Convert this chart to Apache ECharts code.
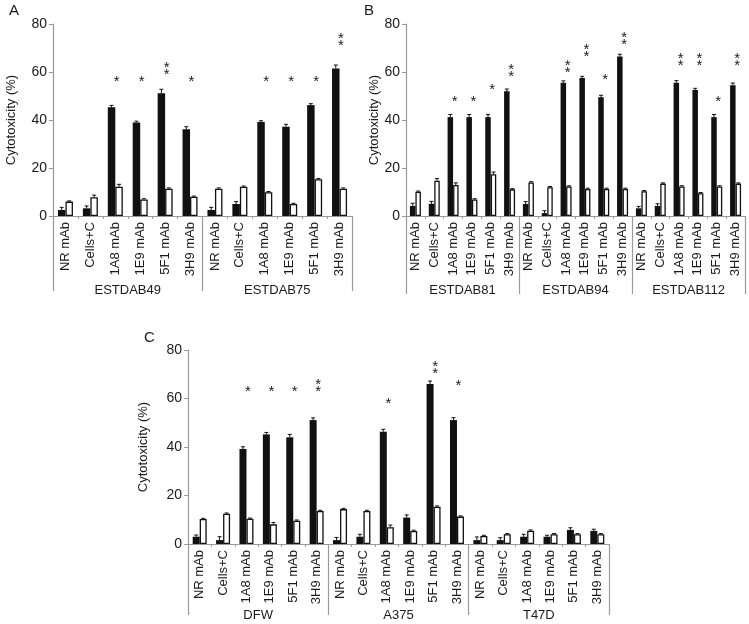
<!DOCTYPE html>
<html>
<head>
<meta charset="utf-8">
<script src="https://cdn.jsdelivr.net/npm/echarts@6/dist/echarts.min.js"></script>
<style>html,body{margin:0;padding:0;background:#fff}#chart{width:749px;height:624px}</style>
</head>
<body>
<div id="chart"></div>
<script>
// ---------- DATA ----------
const treatments = ['NR mAb','Cells+C','1A8 mAb','1E9 mAb','5F1 mAb','3H9 mAb'];
const groupsA = ['ESTDAB49','ESTDAB75'];
const groupsB = ['ESTDAB81','ESTDAB94','ESTDAB112'];
const groupsC = ['DFW','A375','T47D'];
const yTitle = 'Cytotoxicity (%)';

// black bars (mAb + complement) and white bars
const blackA = [2.5,3.2,45.3,39,51.1,36.1, 2.5,5,39.2,37.2,46.2,61.5];
const blackErrA = [1.1,1,0.8,0.5,1.7,1.1, 1.1,1,0.5,1,0.6,1.4];
const whiteA = [6,7.8,12.2,6.9,11.4,8, 11.4,12.2,9.9,5,15.3,11.4];
const whiteErrA = [0.3,0.9,1,0.3,0.3,0.3, 0.3,0.3,0.3,0.3,0.3,0.3];

const blackB = [4.2,5.1,41.2,41.2,41.2,52, 5,1.2,55.5,57.5,49.5,66.5, 3.2,4.2,55.5,52.5,41.2,54.5];
const blackErrB = [1.1,1,1.1,1.1,1.1,0.9, 1,1,0.8,0.7,0.8,0.9, 0.8,0.9,0.9,0.7,1.1,0.9];
const whiteB = [10.1,14.7,12.9,6.9,17.4,11.1, 14,12,12.3,11.3,11.3,11.3, 10.3,13.5,12.3,9.5,12.3,13.5];
const whiteErrB = [0.3,0.9,0.9,0.3,0.9,0.3, 0.3,0.3,0.3,0.3,0.3,0.3, 0.3,0.3,0.3,0.3,0.3,0.3];

const blackC = [3,1.6,39.2,45.2,44,51.1, 1.6,3,46.3,10.9,66,51.1, 1.6,1.6,3,3,5.8,5.4];
const blackErrC = [0.7,1.4,0.9,0.8,1.2,0.9, 1.1,1,1,1.1,1.2,1, 1.3,1,1,0.6,0.9,0.7];
const whiteC = [10.3,12.5,10.4,8.1,9.6,13.6, 14.4,13.6,6.9,5.4,15.4,11.3, 3.3,4,5.5,4,4,4];
const whiteErrC = [0.3,0.3,0.3,0.8,0.3,0.3, 0.3,0.3,0.9,0.3,0.3,0.3, 0.3,0.3,0.3,0.3,0.3,0.3];

// significance asterisks: count and level (value units)
const starsA = [0,0,1,1,2,1, 0,0,1,1,1,2];
const starLevelA = [0,0,57.5,57.5,61.7,57.5, 0,0,57.5,57.5,57.5,73.8];
const starsB = [0,0,1,1,1,2, 0,0,2,2,1,2, 0,0,2,2,1,2];
const starLevelB = [0,0,49.2,49.2,54.2,61, 0,0,62.5,69.2,58.3,74.4, 0,0,65.4,65.4,49.2,65.4];
const starsC = [0,0,1,1,1,2, 0,0,1,0,2,1, 0,0,0,0,0,0];
const starLevelC = [0,0,64.3,64.3,64.3,65.6, 0,0,59.4,0,73.2,66.8, 0,0,0,0,0,0];

const yMin = 0, yMax = 80, yStep = 20;

// ---------- BUILD ----------
const FONT = "'Liberation Sans', Arial, sans-serif";
const GRAY = '#9a9a9a';
const TXT = '#1a1a1a';

function cats(groups){ const c=[]; groups.forEach(()=>treatments.forEach(t=>c.push(t))); return c; }

const panels = [
  {groups: groupsA, black: blackA, bErr: blackErrA, white: whiteA, wErr: whiteErrA, stars: starsA, starLv: starLevelA,
   grid:{left:53, top:24, width:299, height:192}, bw:7.5, nameGap:35, tickLen:75, grpMargin:68},
  {groups: groupsB, black: blackB, bErr: blackErrB, white: whiteB, wErr: whiteErrB, stars: starsB, starLv: starLevelB,
   grid:{left:406, top:24, width:339, height:192}, bw:5.5, nameGap:25, tickLen:78, grpMargin:68},
  {groups: groupsC, black: blackC, bErr: blackErrC, white: whiteC, wErr: whiteErrC, stars: starsC, starLv: starLevelC,
   grid:{left:188, top:350, width:421, height:194}, bw:7, nameGap:38, tickLen:71, grpMargin:65}
];

const grid=[], xAxis=[], yAxis=[], series=[];
panels.forEach((p,i)=>{
  grid.push(p.grid);
  const c = cats(p.groups);
  xAxis.push({type:'category', gridIndex:i, data:c, position:'bottom',
    axisLine:{lineStyle:{color:GRAY, width:1.2}},
    axisTick:{show:true, length:3, alignWithLabel:false, interval:0, lineStyle:{color:GRAY}},
    axisLabel:{interval:0, rotate:90, margin:6, fontSize:13, color:TXT, fontFamily:FONT}});
  xAxis.push({type:'category', gridIndex:i, data:p.groups, position:'bottom',
    axisLine:{show:false},
    axisTick:{show:true, length:p.tickLen, alignWithLabel:false, interval:0, lineStyle:{color:GRAY, width:1.2}},
    axisLabel:{interval:0, margin:p.grpMargin, fontSize:13, color:TXT, fontFamily:FONT}});
  yAxis.push({type:'value', gridIndex:i, min:yMin, max:yMax, interval:yStep,
    name:yTitle, nameLocation:'middle', nameGap:p.nameGap,
    nameTextStyle:{fontSize:13, color:TXT, fontFamily:FONT},
    axisLine:{show:true, lineStyle:{color:GRAY, width:1.2}},
    axisTick:{show:true, length:4, lineStyle:{color:GRAY}},
    splitLine:{show:false},
    axisLabel:{fontSize:14, margin:6, color:TXT, fontFamily:FONT}});
  const xi = i*2;
  series.push({type:'bar', xAxisIndex:xi, yAxisIndex:i, data:p.black, barWidth:p.bw, barGap:'0%',
    itemStyle:{color:'#111'}, silent:true, z:2});
  series.push({type:'bar', xAxisIndex:xi, yAxisIndex:i, data:p.white, barWidth:p.bw, barGap:'0%',
    itemStyle:{color:'#fff', borderColor:'#111', borderWidth:1.3}, silent:true, z:2});
  // error bars
  const errData = [];
  p.black.forEach((v,k)=>errData.push([k, v, p.bErr[k], -1]));
  p.white.forEach((v,k)=>errData.push([k, v, p.wErr[k], 1]));
  const bw = p.bw;
  series.push({type:'custom', xAxisIndex:xi, yAxisIndex:i, data:errData, silent:true, z:5,
    renderItem:(params, api)=>{
      const k=api.value(0), v=api.value(1), e=api.value(2), side=api.value(3);
      const base=api.coord([k,v]); const top=api.coord([k,v+e]);
      const x=base[0]+side*bw/2;
      return {type:'group', children:[
        {type:'line', shape:{x1:x,y1:base[1],x2:x,y2:top[1]}, style:{stroke:'#111', lineWidth:1}},
        {type:'line', shape:{x1:x-2,y1:top[1],x2:x+2,y2:top[1]}, style:{stroke:'#111', lineWidth:1}}
      ]};
    }});
  // asterisks
  const starData = [];
  p.stars.forEach((n,k)=>{ if(n>0) starData.push([k, p.starLv[k], n]); });
  series.push({type:'custom', xAxisIndex:xi, yAxisIndex:i, data:starData, silent:true, z:6,
    renderItem:(params, api)=>{
      const k=api.value(0), lv=api.value(1), n=api.value(2);
      const pt=api.coord([k,lv]);
      const ch=[];
      const ys = n===2 ? [pt[1]-3.5, pt[1]+3.5] : [pt[1]];
      ys.forEach(yy=>ch.push({type:'text', x:pt[0]+1.5, y:yy+3.5,
        style:{text:'*', fontSize:15, fontFamily:FONT, fill:TXT, align:'center', verticalAlign:'middle'}}));
      return {type:'group', children:ch};
    }});
});

const chart = echarts.init(document.getElementById('chart'), null, {renderer:'canvas'});
chart.setOption({
  animation:false,
  backgroundColor:'#fff',
  grid, xAxis, yAxis, series,
  graphic:[
    {type:'text', left:9, top:3, style:{text:'A', fontSize:15, fontFamily:FONT, fill:TXT}},
    {type:'text', left:364, top:3, style:{text:'B', fontSize:15, fontFamily:FONT, fill:TXT}},
    {type:'text', left:144, top:330, style:{text:'C', fontSize:15, fontFamily:FONT, fill:TXT}}
  ]
});
</script>
</body>
</html>
